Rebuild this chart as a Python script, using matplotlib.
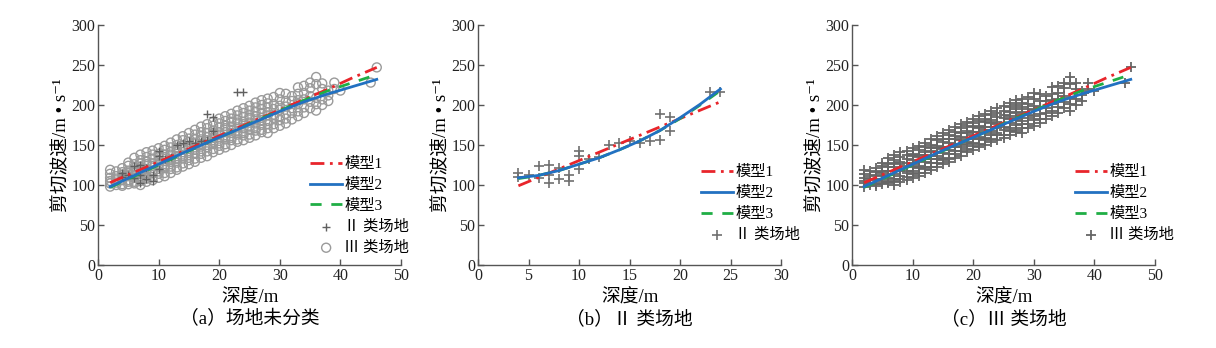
import matplotlib
matplotlib.use("Agg")
import matplotlib.pyplot as plt

plt.rcParams['font.family'] = ['Liberation Serif', 'Noto Sans CJK SC', 'DejaVu Sans']
plt.rcParams['axes.unicode_minus'] = False

# fitted model curves, site not classified / class III
curve_depth = [2, 6, 10, 14, 18, 22, 26, 30, 34, 38, 42, 46]
model1_all = [103, 116, 129, 142, 155, 168, 181, 194, 207, 220, 234, 247]
model2_all = [98, 112, 126, 140, 153, 166, 179, 192, 204, 214, 223, 232]
model3_all = [97, 111, 125, 139, 153, 166, 180, 193, 206, 218, 228, 238]

# fitted model curves, class II
curve_depth_ii = [4, 6, 8, 10, 12, 14, 16, 18, 20, 22, 24]
model1_ii = [99, 109.5, 120, 130.5, 141, 151.5, 162, 172.5, 183, 193.5, 204]
model2_ii = [109, 112, 118, 126, 134, 144, 155, 168, 184, 201, 220]
model3_ii = [108, 112, 118, 126, 134, 144, 155, 168, 183, 200, 218]

# class II measurements
ii_depth = [4, 4, 5, 6, 6, 7, 7, 7, 8, 8, 9, 9, 10, 10, 10, 11, 12, 13, 14, 15,
            16, 17, 18, 18, 19, 19, 23, 24]
ii_vs = [115, 110, 112, 124, 109, 125, 112, 102, 121, 108, 112, 105, 142, 136, 120,
         133, 135, 150, 152, 155, 153, 155, 189, 156, 185, 168, 216, 216]

# class III measurements, grouped by depth
iii_groups = {
    2: [98, 102, 105, 109, 114, 119],
    3: [100, 103, 108, 111, 117],
    4: [99, 101, 106, 108, 113, 116, 121],
    5: [101, 104, 106, 111, 115, 118, 124, 128],
    6: [102, 104, 109, 112, 117, 122, 126, 134],
    7: [100, 105, 108, 114, 117, 123, 127, 131, 138],
    8: [104, 108, 111, 117, 120, 126, 129, 135, 141],
    9: [106, 110, 115, 118, 124, 127, 133, 138, 143],
    10: [109, 114, 117, 123, 126, 131, 136, 139, 146],
    11: [111, 115, 121, 124, 130, 135, 138, 144, 149],
    12: [115, 120, 123, 129, 132, 138, 141, 147, 153],
    13: [119, 122, 128, 133, 136, 142, 146, 150, 157],
    14: [123, 127, 133, 136, 141, 146, 149, 156, 161],
    15: [126, 131, 134, 140, 145, 148, 154, 158, 165],
    16: [129, 133, 139, 144, 147, 153, 157, 163, 169],
    17: [134, 139, 142, 148, 151, 157, 161, 166, 173],
    18: [136, 142, 147, 150, 156, 160, 165, 171, 176],
    19: [141, 145, 151, 154, 159, 165, 168, 174, 179],
    20: [144, 149, 152, 158, 163, 166, 172, 177, 183],
    21: [147, 151, 157, 160, 166, 171, 174, 180, 186],
    22: [150, 156, 159, 165, 169, 173, 179, 183, 189],
    23: [154, 157, 163, 167, 172, 178, 181, 187, 193],
    24: [156, 162, 165, 171, 176, 179, 185, 190, 196],
    25: [159, 163, 169, 173, 178, 184, 187, 193, 199],
    26: [162, 168, 171, 177, 182, 186, 191, 197, 203],
    27: [166, 169, 175, 181, 184, 190, 195, 200, 206],
    28: [165, 171, 176, 180, 187, 191, 197, 202, 208],
    29: [171, 176, 184, 188, 195, 201, 210],
    30: [174, 181, 186, 194, 199, 207, 215],
    31: [177, 183, 189, 198, 205, 214],
    32: [182, 190, 196, 205, 211],
    33: [186, 192, 201, 206, 214, 222],
    34: [190, 197, 207, 215, 224],
    35: [196, 204, 211, 221, 228],
    36: [193, 201, 209, 226, 235],
    37: [200, 207, 220, 227],
    38: [205, 212, 218],
    39: [220, 228],
    40: [218],
    45: [228],
    46: [247],
}
iii_depth = [d for d, vs in iii_groups.items() for _ in vs]
iii_vs = [v for vs in iii_groups.values() for v in vs]

RED = '#e8252b'
BLUE = '#2271c1'
GREEN = '#1fae45'
LS1 = (0, (5, 2, 1, 2))
LS3 = (0, (4, 3.5))

LEG = dict(loc='upper left', frameon=False, fontsize=11, handlelength=2.1,
           handletextpad=0.15, labelspacing=0.45, borderpad=0, borderaxespad=0)


def style_axes(ax, xmax, xstep):
    ax.set_xlim(0, xmax)
    ax.set_ylim(0, 300)
    ax.set_xticks(range(0, xmax + 1, xstep))
    ax.set_yticks(range(0, 301, 50))
    for s in ['top', 'right']:
        ax.spines[s].set_visible(False)
    for s in ['left', 'bottom']:
        ax.spines[s].set_color('#555555')
        ax.spines[s].set_linewidth(1.0)
    ax.tick_params(direction='in', length=4, width=1, colors='#555555',
                   labelcolor='#222222', labelsize=11.5, pad=2)
    ax.set_xlabel('深度/m', fontsize=13.5, labelpad=4)
    ax.set_ylabel('剪切波速/m • s⁻¹', fontsize=13.5, labelpad=1)


def draw_models(ax, x, m1, m2, m3):
    ax.plot(x, m1, color=RED, lw=2, ls=LS1, label='模型1', zorder=3)
    ax.plot(x, m2, color=BLUE, lw=2, label='模型2', zorder=4)
    ax.plot(x, m3, color=GREEN, lw=2, ls=LS3, label='模型3', zorder=3)


fig = plt.figure(figsize=(12.16, 3.48), dpi=100)
w, h = 303 / 1216, 240 / 348
bottom = 83 / 348
ax_a = fig.add_axes([98 / 1216, bottom, w, h])
ax_b = fig.add_axes([478 / 1216, bottom, w, h])
ax_c = fig.add_axes([852 / 1216, bottom, w, h])

# (a) all sites
ax_a.scatter(iii_depth, iii_vs, s=42, facecolors='none', edgecolors='#9a9a9a',
             linewidths=1.0, label='Ⅲ 类场地', zorder=2)
ax_a.scatter(ii_depth, ii_vs, s=40, marker='+', color='#606060', linewidths=1.0,
             label='Ⅱ 类场地', zorder=2)
draw_models(ax_a, curve_depth, model1_all, model2_all, model3_all)
style_axes(ax_a, 50, 10)
handles, labels = ax_a.get_legend_handles_labels()
order = [2, 3, 4, 1, 0]
ax_a.legend([handles[i] for i in order], [labels[i] for i in order],
            bbox_to_anchor=(0.70, 0.45), **LEG)

# (b) class II
ax_b.scatter(ii_depth, ii_vs, s=50, marker='+', color='#707070', linewidths=1.2,
             label='Ⅱ 类场地', zorder=2)
draw_models(ax_b, curve_depth_ii, model1_ii, model2_ii, model3_ii)
style_axes(ax_b, 30, 5)
handles, labels = ax_b.get_legend_handles_labels()
order = [1, 2, 3, 0]
ax_b.legend([handles[i] for i in order], [labels[i] for i in order],
            bbox_to_anchor=(0.735, 0.415), **LEG)

# (c) class III
ax_c.scatter(iii_depth, iii_vs, s=60, marker='+', color='#666666', linewidths=1.3,
             label='Ⅲ 类场地', zorder=2)
draw_models(ax_c, curve_depth, model1_all, model2_all, model3_all)
style_axes(ax_c, 50, 10)
handles, labels = ax_c.get_legend_handles_labels()
ax_c.legend([handles[i] for i in order], [labels[i] for i in order],
            bbox_to_anchor=(0.735, 0.415), **LEG)

captions = ['（a）场地未分类', '（b）Ⅱ 类场地', '（c）Ⅲ 类场地']
for ax, cap in zip([ax_a, ax_b, ax_c], captions):
    pos = ax.get_position()
    fig.text(pos.x0 + pos.width / 2, 1 - 319 / 348, cap, ha='center', va='center',
             fontsize=13.5)

fig.savefig('out.png', dpi=100)
